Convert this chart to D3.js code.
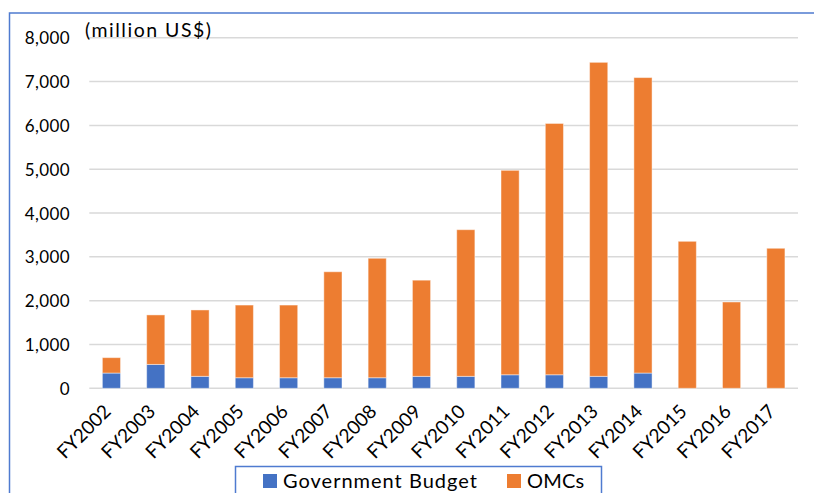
<!DOCTYPE html>
<html>
<head>
<meta charset="utf-8">
<script src="https://cdn.jsdelivr.net/npm/d3@7"></script>
<style>
  html, body { margin: 0; padding: 0; background: #fff; }
  svg { display: block; }
  text { font-family: Lato, "Open Sans", sans-serif; fill: #000; }
</style>
</head>
<body>
<svg id="chart" width="814" height="493"></svg>
<script>
const categories = ["FY2002","FY2003","FY2004","FY2005","FY2006","FY2007","FY2008","FY2009","FY2010","FY2011","FY2012","FY2013","FY2014","FY2015","FY2016","FY2017"];
const governmentBudget = [348, 545, 273, 241, 241, 241, 241, 273, 273, 309, 309, 273, 348, 0, 0, 0];
const totals = [700, 1675, 1788, 1900, 1900, 2660, 2968, 2468, 3620, 4975, 6045, 7440, 7092, 3355, 1970, 3196];
const omcs = totals.map((t, i) => t - governmentBudget[i]);
const seriesNames = ["Government Budget", "OMCs"];
const seriesColors = ["#4472C4", "#ED7D31"];
const yTicks = [0, 1000, 2000, 3000, 4000, 5000, 6000, 7000, 8000];
const unitLabel = "(million US$)";

const svg = d3.select("#chart");

// outer frame
svg.append("rect").attr("x", 9.5).attr("y", 13).attr("width", 900).attr("height", 600)
  .attr("fill", "none").attr("stroke", "#4F7BD0").attr("stroke-width", 1.5);

const x = d3.scaleBand().domain(categories).range([89.3, 798]).paddingInner(0.59).paddingOuter(0.295);
const y = d3.scaleLinear().domain([0, 8000]).range([388.3, 37.8]);

// gridlines
svg.append("g").selectAll("line").data(yTicks).join("line")
  .attr("x1", 89.3).attr("x2", 798)
  .attr("y1", d => y(d)).attr("y2", d => y(d))
  .attr("stroke", "#D9D9D9").attr("stroke-width", 1.5);

// y axis labels
const yAxis = d3.axisLeft(y).tickValues(yTicks).tickFormat(d3.format(",")).tickSize(0).tickPadding(0);
const yg = svg.append("g").attr("transform", "translate(70,0)").call(yAxis);
yg.select(".domain").remove();
yg.selectAll("text").attr("font-size", 17).attr("font-family", "Lato, sans-serif").attr("fill", "#000").attr("dy", "0.36em")
  .attr("letter-spacing", 0.4);

// stacked bars
const rows = categories.map((c, i) => ({cat: c, gov: governmentBudget[i], omc: omcs[i]}));
const stack = d3.stack().keys(["gov", "omc"]);
const stacked = stack(rows);
svg.append("g").selectAll("g").data(stacked).join("g")
  .attr("fill", (d, i) => seriesColors[i])
  .selectAll("rect").data(d => d).join("rect")
  .attr("x", d => x(d.data.cat))
  .attr("width", x.bandwidth())
  .attr("y", d => y(d[1]))
  .attr("height", d => Math.max(0, y(d[0]) - y(d[1])))
  .attr("stroke", "rgba(255,255,255,0.45)").attr("stroke-width", 1);

// x axis labels
const xAxis = d3.axisBottom(x).tickSize(0).tickPadding(0);
const xg = svg.append("g").attr("transform", "translate(0,398)").call(xAxis);
xg.select(".domain").remove();
xg.selectAll("text")
  .attr("font-size", 19).attr("font-family", "Lato, sans-serif").attr("fill", "#000")
  .attr("text-anchor", "end").attr("dy", "0.35em").attr("y", 0)
  .attr("transform", "translate(-4,10) rotate(-45)");

// unit label
svg.append("text").attr("x", 85).attr("y", 37).attr("font-size", 19.5).attr("letter-spacing", 1.5).text(unitLabel);

// legend
const lg = svg.append("g");
lg.append("rect").attr("x", 235.5).attr("y", 466.5).attr("width", 366).attr("height", 60)
  .attr("fill", "#fff").attr("stroke", "#4F7BD0").attr("stroke-width", 1.5);
const legendX = [263, 507];
seriesNames.forEach((name, i) => {
  lg.append("rect").attr("x", legendX[i]).attr("y", 474).attr("width", 14).attr("height", 14).attr("fill", seriesColors[i]);
  lg.append("text").attr("x", legendX[i] + 20).attr("y", 488).attr("font-size", 20)
    .attr("letter-spacing", i === 0 ? 1 : 0.2).text(name);
});
</script>
</body>
</html>
